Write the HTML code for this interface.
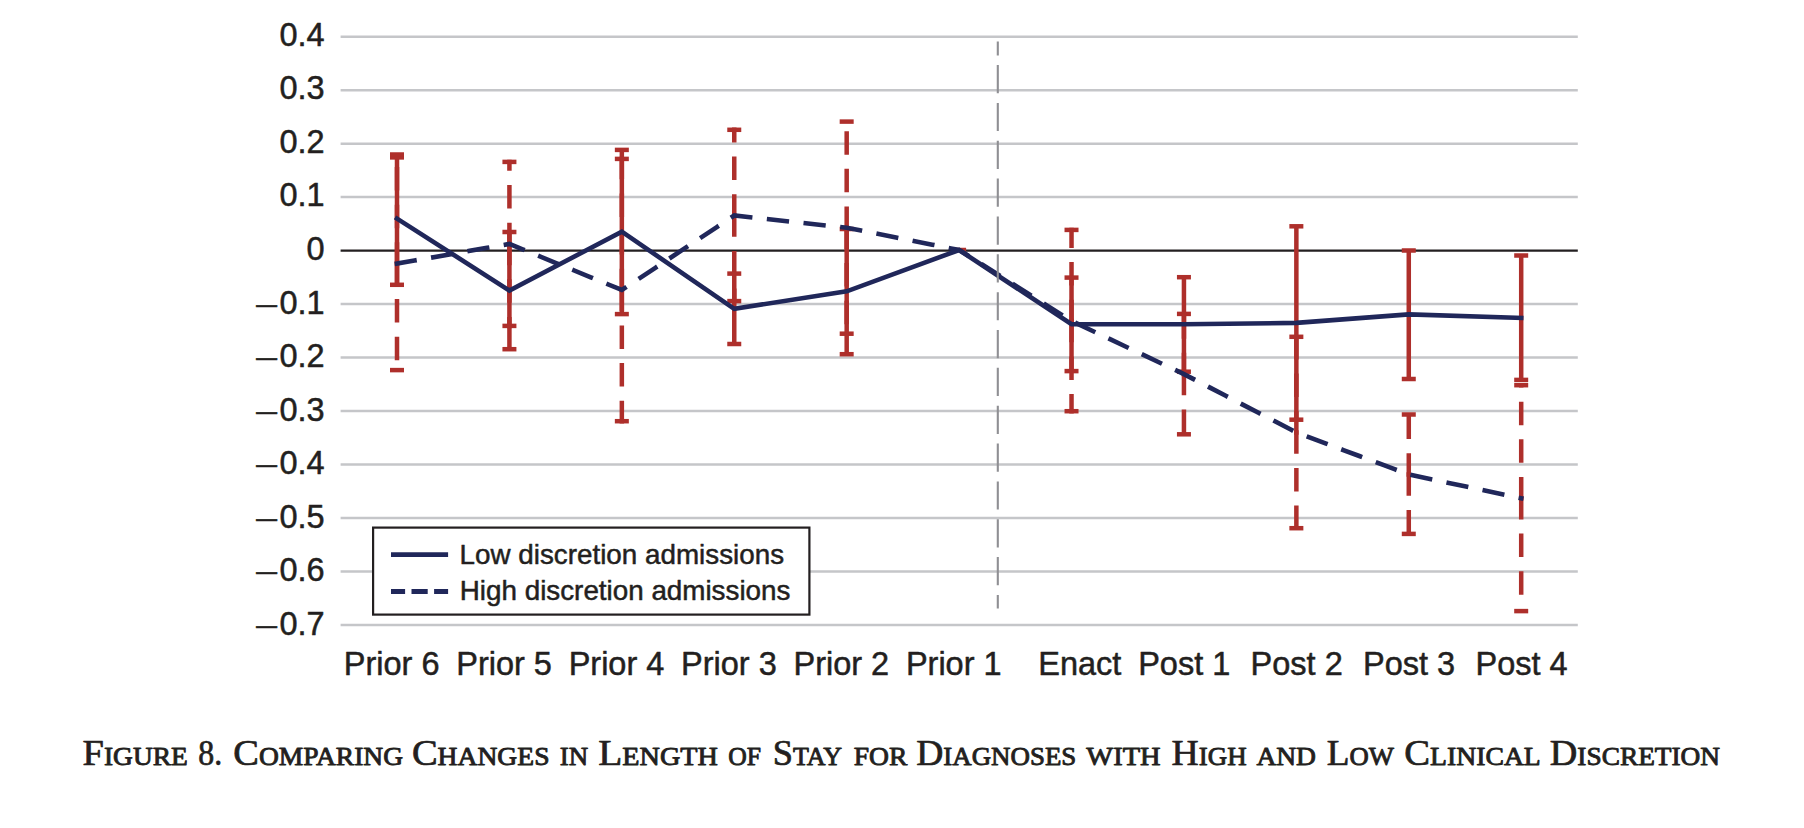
<!DOCTYPE html>
<html lang="en"><head><meta charset="utf-8"><title>Figure 8</title>
<style>html,body{margin:0;padding:0;background:#fff}body{width:1804px;height:828px;overflow:hidden}svg{display:block}
.ax{font-family:"Liberation Sans",Arial,Helvetica,sans-serif;fill:#231F20;stroke:#231F20;stroke-width:0.5px;stroke-linejoin:round}
.cap{font-family:"Liberation Serif","Times New Roman",serif;fill:#231F20;stroke:#231F20;stroke-linejoin:round}.b{font-size:35.2px;stroke-width:0.7px}.s{font-size:25.2px;stroke-width:0.85px}
</style></head><body>
<svg width="1804" height="828" viewBox="0 0 1804 828">
<rect width="1804" height="828" fill="#fff"/>
<g stroke="#C5C6C9" stroke-width="2.5">
<line x1="340.6" x2="1577.8" y1="36.65" y2="36.65"/>
<line x1="340.6" x2="1577.8" y1="90.14" y2="90.14"/>
<line x1="340.6" x2="1577.8" y1="143.63" y2="143.63"/>
<line x1="340.6" x2="1577.8" y1="197.12" y2="197.12"/>
<line x1="340.6" x2="1577.8" y1="304.10" y2="304.10"/>
<line x1="340.6" x2="1577.8" y1="357.59" y2="357.59"/>
<line x1="340.6" x2="1577.8" y1="411.08" y2="411.08"/>
<line x1="340.6" x2="1577.8" y1="464.57" y2="464.57"/>
<line x1="340.6" x2="1577.8" y1="518.06" y2="518.06"/>
<line x1="340.6" x2="1577.8" y1="571.55" y2="571.55"/>
<line x1="340.6" x2="1577.8" y1="625.04" y2="625.04"/>
</g>
<line x1="340.6" x2="1577.8" y1="250.61" y2="250.61" stroke="#231F20" stroke-width="2.3"/>
<g stroke="#AE2F2B" stroke-width="4.5" fill="none">
<line x1="397.00" y1="263.60" x2="397.00" y2="157.40" stroke-dasharray="19 18.65" stroke-linecap="square"/>
<line x1="397.00" y1="263.60" x2="397.00" y2="370.10" stroke-dasharray="19 18.65" stroke-linecap="square"/>
<line x1="390.00" y1="157.40" x2="404.00" y2="157.40"/>
<line x1="390.00" y1="370.10" x2="404.00" y2="370.10"/>
<line x1="509.42" y1="243.90" x2="509.42" y2="161.90" stroke-dasharray="19 18.65" stroke-linecap="square"/>
<line x1="509.42" y1="243.90" x2="509.42" y2="325.90" stroke-dasharray="19 18.65" stroke-linecap="square"/>
<line x1="502.42" y1="161.90" x2="516.42" y2="161.90"/>
<line x1="502.42" y1="325.90" x2="516.42" y2="325.90"/>
<line x1="621.84" y1="290.00" x2="621.84" y2="158.90" stroke-dasharray="19 18.65" stroke-linecap="square"/>
<line x1="621.84" y1="290.00" x2="621.84" y2="421.20" stroke-dasharray="19 18.65" stroke-linecap="square"/>
<line x1="614.84" y1="158.90" x2="628.84" y2="158.90"/>
<line x1="614.84" y1="421.20" x2="628.84" y2="421.20"/>
<line x1="734.26" y1="215.50" x2="734.26" y2="129.80" stroke-dasharray="19 18.65" stroke-linecap="square"/>
<line x1="734.26" y1="215.50" x2="734.26" y2="301.10" stroke-dasharray="19 18.65" stroke-linecap="square"/>
<line x1="727.26" y1="129.80" x2="741.26" y2="129.80"/>
<line x1="727.26" y1="301.10" x2="741.26" y2="301.10"/>
<line x1="846.68" y1="227.70" x2="846.68" y2="121.60" stroke-dasharray="19 18.65" stroke-linecap="square"/>
<line x1="846.68" y1="227.70" x2="846.68" y2="333.70" stroke-dasharray="19 18.65" stroke-linecap="square"/>
<line x1="839.68" y1="121.60" x2="853.68" y2="121.60"/>
<line x1="839.68" y1="333.70" x2="853.68" y2="333.70"/>
<line x1="952.10" y1="250.00" x2="966.10" y2="250.00"/>
<line x1="1071.52" y1="321.00" x2="1071.52" y2="229.90" stroke-dasharray="19 18.65" stroke-linecap="square"/>
<line x1="1071.52" y1="321.00" x2="1071.52" y2="411.20" stroke-dasharray="19 18.65" stroke-linecap="square"/>
<line x1="1064.52" y1="229.90" x2="1078.52" y2="229.90"/>
<line x1="1064.52" y1="411.20" x2="1078.52" y2="411.20"/>
<line x1="1183.94" y1="374.10" x2="1183.94" y2="313.90" stroke-dasharray="19 18.65" stroke-linecap="square"/>
<line x1="1183.94" y1="374.10" x2="1183.94" y2="434.30" stroke-dasharray="19 18.65" stroke-linecap="square"/>
<line x1="1176.94" y1="313.90" x2="1190.94" y2="313.90"/>
<line x1="1176.94" y1="434.30" x2="1190.94" y2="434.30"/>
<line x1="1296.36" y1="432.50" x2="1296.36" y2="336.80" stroke-dasharray="19 18.65" stroke-linecap="square"/>
<line x1="1296.36" y1="432.50" x2="1296.36" y2="528.20" stroke-dasharray="19 18.65" stroke-linecap="square"/>
<line x1="1289.36" y1="336.80" x2="1303.36" y2="336.80"/>
<line x1="1289.36" y1="528.20" x2="1303.36" y2="528.20"/>
<line x1="1408.78" y1="474.50" x2="1408.78" y2="414.50" stroke-dasharray="19 18.65" stroke-linecap="square"/>
<line x1="1408.78" y1="474.50" x2="1408.78" y2="533.90" stroke-dasharray="19 18.65" stroke-linecap="square"/>
<line x1="1401.78" y1="414.50" x2="1415.78" y2="414.50"/>
<line x1="1401.78" y1="533.90" x2="1415.78" y2="533.90"/>
<line x1="1521.20" y1="498.20" x2="1521.20" y2="385.20" stroke-dasharray="19 18.65" stroke-linecap="square"/>
<line x1="1521.20" y1="498.20" x2="1521.20" y2="611.10" stroke-dasharray="19 18.65" stroke-linecap="square"/>
<line x1="1514.20" y1="385.20" x2="1528.20" y2="385.20"/>
<line x1="1514.20" y1="611.10" x2="1528.20" y2="611.10"/>
<line x1="397.00" y1="154.50" x2="397.00" y2="284.80"/>
<line x1="390.00" y1="154.50" x2="404.00" y2="154.50"/>
<line x1="390.00" y1="284.80" x2="404.00" y2="284.80"/>
<line x1="509.42" y1="232.00" x2="509.42" y2="349.20"/>
<line x1="502.42" y1="232.00" x2="516.42" y2="232.00"/>
<line x1="502.42" y1="349.20" x2="516.42" y2="349.20"/>
<line x1="621.84" y1="149.90" x2="621.84" y2="314.10"/>
<line x1="614.84" y1="149.90" x2="628.84" y2="149.90"/>
<line x1="614.84" y1="314.10" x2="628.84" y2="314.10"/>
<line x1="734.26" y1="273.60" x2="734.26" y2="344.00"/>
<line x1="727.26" y1="273.60" x2="741.26" y2="273.60"/>
<line x1="727.26" y1="344.00" x2="741.26" y2="344.00"/>
<line x1="846.68" y1="229.00" x2="846.68" y2="354.20"/>
<line x1="839.68" y1="229.00" x2="853.68" y2="229.00"/>
<line x1="839.68" y1="354.20" x2="853.68" y2="354.20"/>
<line x1="1071.52" y1="277.60" x2="1071.52" y2="371.10"/>
<line x1="1064.52" y1="277.60" x2="1078.52" y2="277.60"/>
<line x1="1064.52" y1="371.10" x2="1078.52" y2="371.10"/>
<line x1="1183.94" y1="277.20" x2="1183.94" y2="371.70"/>
<line x1="1176.94" y1="277.20" x2="1190.94" y2="277.20"/>
<line x1="1176.94" y1="371.70" x2="1190.94" y2="371.70"/>
<line x1="1296.36" y1="226.30" x2="1296.36" y2="419.70"/>
<line x1="1289.36" y1="226.30" x2="1303.36" y2="226.30"/>
<line x1="1289.36" y1="419.70" x2="1303.36" y2="419.70"/>
<line x1="1408.78" y1="250.50" x2="1408.78" y2="379.00"/>
<line x1="1401.78" y1="250.50" x2="1415.78" y2="250.50"/>
<line x1="1401.78" y1="379.00" x2="1415.78" y2="379.00"/>
<line x1="1521.20" y1="255.50" x2="1521.20" y2="379.90"/>
<line x1="1514.20" y1="255.50" x2="1528.20" y2="255.50"/>
<line x1="1514.20" y1="379.90" x2="1528.20" y2="379.90"/>
</g>
<polyline points="397.00,263.60 509.42,243.90 621.84,290.00 734.26,215.50 846.68,227.70 959.10,250.00 1071.52,321.00 1183.94,374.10 1296.36,432.50 1408.78,474.50 1521.20,498.20" fill="none" stroke="#20275A" stroke-width="4.6" stroke-dasharray="17.75 19.12" stroke-linecap="square" stroke-linejoin="miter"/>
<polyline points="397.00,218.60 509.42,290.50 621.84,231.70 734.26,308.80 846.68,291.30 959.10,250.00 1071.52,324.20 1183.94,324.20 1296.36,322.90 1408.78,314.40 1521.20,317.90" fill="none" stroke="#20275A" stroke-width="4.6" stroke-linecap="square" stroke-linejoin="miter"/>
<line x1="997.8" x2="997.8" y1="41.4" y2="608.5" stroke="#8F8F93" stroke-width="2.1" stroke-dasharray="28.2 9.65" stroke-dashoffset="14.2"/>
<rect x="373.1" y="527.6" width="436.3" height="87" fill="#fff" stroke="#231F20" stroke-width="2.2"/>
<line x1="391" x2="448.1" y1="554.6" y2="554.6" stroke="#20275A" stroke-width="4.8"/>
<line x1="391" x2="448.1" y1="591.5" y2="591.5" stroke="#20275A" stroke-width="4.8" stroke-dasharray="16.2 6.4" stroke-dashoffset="2.1"/>
<text class="ax" x="459.6" y="563.7" font-size="27.8">Low discretion admissions</text>
<text class="ax" x="459.8" y="600.1" font-size="27.8">High discretion admissions</text>
<text class="ax" x="324.6" y="45.95" font-size="32.5" text-anchor="end">0.4</text>
<text class="ax" x="324.6" y="99.44" font-size="32.5" text-anchor="end">0.3</text>
<text class="ax" x="324.6" y="152.93" font-size="32.5" text-anchor="end">0.2</text>
<text class="ax" x="324.6" y="206.42" font-size="32.5" text-anchor="end">0.1</text>
<text class="ax" x="324.6" y="259.91" font-size="32.5" text-anchor="end">0</text>
<text class="ax" x="324.6" y="314.00" font-size="32.5" text-anchor="end">0.1</text>
<text class="ax" x="256.2" y="312.70" font-size="25" stroke-width="0" textLength="20.7" lengthAdjust="spacingAndGlyphs">–</text>
<text class="ax" x="324.6" y="367.49" font-size="32.5" text-anchor="end">0.2</text>
<text class="ax" x="256.2" y="366.19" font-size="25" stroke-width="0" textLength="20.7" lengthAdjust="spacingAndGlyphs">–</text>
<text class="ax" x="324.6" y="420.98" font-size="32.5" text-anchor="end">0.3</text>
<text class="ax" x="256.2" y="419.68" font-size="25" stroke-width="0" textLength="20.7" lengthAdjust="spacingAndGlyphs">–</text>
<text class="ax" x="324.6" y="474.47" font-size="32.5" text-anchor="end">0.4</text>
<text class="ax" x="256.2" y="473.17" font-size="25" stroke-width="0" textLength="20.7" lengthAdjust="spacingAndGlyphs">–</text>
<text class="ax" x="324.6" y="527.96" font-size="32.5" text-anchor="end">0.5</text>
<text class="ax" x="256.2" y="526.66" font-size="25" stroke-width="0" textLength="20.7" lengthAdjust="spacingAndGlyphs">–</text>
<text class="ax" x="324.6" y="581.45" font-size="32.5" text-anchor="end">0.6</text>
<text class="ax" x="256.2" y="580.15" font-size="25" stroke-width="0" textLength="20.7" lengthAdjust="spacingAndGlyphs">–</text>
<text class="ax" x="324.6" y="634.94" font-size="32.5" text-anchor="end">0.7</text>
<text class="ax" x="256.2" y="633.64" font-size="25" stroke-width="0" textLength="20.7" lengthAdjust="spacingAndGlyphs">–</text>
<text class="ax" x="343.80" y="674.9" font-size="32.5">Prior 6</text>
<text class="ax" x="456.22" y="674.9" font-size="32.5">Prior 5</text>
<text class="ax" x="568.64" y="674.9" font-size="32.5">Prior 4</text>
<text class="ax" x="681.06" y="674.9" font-size="32.5">Prior 3</text>
<text class="ax" x="793.48" y="674.9" font-size="32.5">Prior 2</text>
<text class="ax" x="905.90" y="674.9" font-size="32.5">Prior 1</text>
<text class="ax" x="1038.30" y="674.9" font-size="32.5">Enact</text>
<text class="ax" x="1138.20" y="674.9" font-size="32.5">Post 1</text>
<text class="ax" x="1250.62" y="674.9" font-size="32.5">Post 2</text>
<text class="ax" x="1363.04" y="674.9" font-size="32.5">Post 3</text>
<text class="ax" x="1475.46" y="674.9" font-size="32.5">Post 4</text>
<text class="cap" x="82.60" y="764.9" textLength="105.20" lengthAdjust="spacingAndGlyphs"><tspan class="b">F</tspan><tspan class="s">IGURE</tspan></text>
<text class="cap" x="198.30" y="764.9" textLength="23.90" lengthAdjust="spacingAndGlyphs"><tspan class="b">8.</tspan></text>
<text class="cap" x="233.30" y="764.9" textLength="169.80" lengthAdjust="spacingAndGlyphs"><tspan class="b">C</tspan><tspan class="s">OMPARING</tspan></text>
<text class="cap" x="411.90" y="764.9" textLength="137.60" lengthAdjust="spacingAndGlyphs"><tspan class="b">C</tspan><tspan class="s">HANGES</tspan></text>
<text class="cap" x="559.80" y="764.9" textLength="28.40" lengthAdjust="spacingAndGlyphs"><tspan class="s">IN</tspan></text>
<text class="cap" x="598.20" y="764.9" textLength="119.70" lengthAdjust="spacingAndGlyphs"><tspan class="b">L</tspan><tspan class="s">ENGTH</tspan></text>
<text class="cap" x="728.20" y="764.9" textLength="32.80" lengthAdjust="spacingAndGlyphs"><tspan class="s">OF</tspan></text>
<text class="cap" x="772.80" y="764.9" textLength="69.20" lengthAdjust="spacingAndGlyphs"><tspan class="b">S</tspan><tspan class="s">TAY</tspan></text>
<text class="cap" x="853.80" y="764.9" textLength="53.60" lengthAdjust="spacingAndGlyphs"><tspan class="s">FOR</tspan></text>
<text class="cap" x="916.20" y="764.9" textLength="160.10" lengthAdjust="spacingAndGlyphs"><tspan class="b">D</tspan><tspan class="s">IAGNOSES</tspan></text>
<text class="cap" x="1086.30" y="764.9" textLength="74.30" lengthAdjust="spacingAndGlyphs"><tspan class="s">WITH</tspan></text>
<text class="cap" x="1171.60" y="764.9" textLength="75.10" lengthAdjust="spacingAndGlyphs"><tspan class="b">H</tspan><tspan class="s">IGH</tspan></text>
<text class="cap" x="1256.40" y="764.9" textLength="59.60" lengthAdjust="spacingAndGlyphs"><tspan class="s">AND</tspan></text>
<text class="cap" x="1326.70" y="764.9" textLength="67.20" lengthAdjust="spacingAndGlyphs"><tspan class="b">L</tspan><tspan class="s">OW</tspan></text>
<text class="cap" x="1404.30" y="764.9" textLength="136.50" lengthAdjust="spacingAndGlyphs"><tspan class="b">C</tspan><tspan class="s">LINICAL</tspan></text>
<text class="cap" x="1549.80" y="764.9" textLength="170.30" lengthAdjust="spacingAndGlyphs"><tspan class="b">D</tspan><tspan class="s">ISCRETION</tspan></text>
</svg></body></html>
